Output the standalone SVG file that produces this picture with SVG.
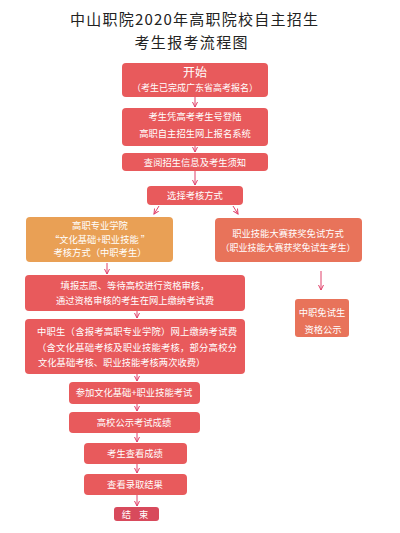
<svg xmlns="http://www.w3.org/2000/svg" width="400" height="533" viewBox="0 0 400 533">
<defs>
<marker id="ah" markerWidth="6" markerHeight="6" refX="5" refY="3" orient="auto" markerUnits="userSpaceOnUse">
<path d="M0,0.5 L5,3 L0,5.5" fill="none" stroke="#E0406A" stroke-width="1"/>
</marker>
</defs>
<style>
text{font-family:"Noto Sans CJK SC","Noto Sans",sans-serif;fill:#fff;text-anchor:middle;font-size:9.3px}
.title{fill:#222;font-size:15px}
.red{fill:#E85A5C}
.org{fill:#E9A055}
.sal{fill:#E8735A}
.end{fill:#D84A5C}
.conn line{stroke:#E0406A;stroke-width:1;marker-end:url(#ah)}
</style>
<rect width="400" height="533" fill="#fff"/>
<g id="title">
<text class="title" x="194" y="25" textLength="248" lengthAdjust="spacing">中山职院2020年高职院校自主招生</text>
<text class="title" x="191" y="48" textLength="113" lengthAdjust="spacing">考生报考流程图</text>
</g>
<g id="n1"><rect class="red" x="122" y="63" width="146" height="34" rx="4"/>
<text x="195" y="77" style="font-size:12px">开始</text>
<text x="195" y="91" style="font-size:9px">（考生已完成广东省高考报名）</text></g>
<g id="n2"><rect class="red" x="122" y="108" width="146" height="38" rx="4"/>
<text x="195" y="120">考生凭高考考生号登陆</text>
<text x="195" y="137">高职自主招生网上报名系统</text></g>
<g id="n3"><rect class="red" x="122" y="153" width="146" height="18" rx="4"/>
<text x="195" y="166">查阅招生信息及考生须知</text></g>
<g id="n4"><rect class="red" x="147" y="186" width="96" height="19" rx="4"/>
<text x="195" y="199">选择考核方式</text></g>
<g id="n5"><rect class="org" x="26" y="217" width="147" height="45" rx="4"/>
<text x="100" y="229">高职专业学院</text>
<text x="100" y="243">“文化基础+职业技能 ”</text>
<text x="100" y="256">考核方式（中职考生）</text></g>
<g id="n6"><rect class="sal" x="215" y="218" width="147" height="44" rx="4"/>
<text x="288" y="237">职业技能大赛获奖免试方式</text>
<text x="288" y="251" style="font-size:9px">（职业技能大赛获奖免试生考生）</text></g>
<g id="n7"><rect class="red" x="25" y="275" width="220" height="36" rx="4"/>
<text x="135" y="289">填报志愿、等待高校进行资格审核，</text>
<text x="135" y="304">通过资格审核的考生在网上缴纳考试费</text></g>
<g id="n8"><rect class="sal" x="295" y="299" width="54" height="38" rx="3"/>
<text x="322" y="316">中职免试生</text>
<text x="323" y="333">资格公示</text></g>
<g id="n9"><rect class="red" x="25" y="319" width="220" height="55" rx="4"/>
<text x="137" y="335" textLength="200" lengthAdjust="spacing">中职生（含报考高职专业学院）网上缴纳考试费</text>
<text x="137" y="351" textLength="200" lengthAdjust="spacing">（含文化基础考核及职业技能考核，部分高校分</text>
<text x="38" y="366" style="text-anchor:start">文化基础考核、职业技能考核两次收费）</text></g>
<g id="n10"><rect class="red" x="69" y="382" width="131" height="22" rx="4"/>
<text x="134" y="396">参加文化基础+职业技能考试</text></g>
<g id="n11"><rect class="red" x="69" y="412" width="131" height="21" rx="4"/>
<text x="134" y="426">高校公示考试成绩</text></g>
<g id="n12"><rect class="red" x="84" y="443" width="103" height="21" rx="4"/>
<text x="135" y="457">考生查看成绩</text></g>
<g id="n13"><rect class="red" x="84" y="474" width="103" height="21" rx="4"/>
<text x="135" y="488">查看录取结果</text></g>
<g id="n14"><rect class="end" x="114" y="507" width="45" height="14" rx="3"/>
<text x="136.5" y="517.5" style="letter-spacing:3px">结 束</text></g>
<g class="conn" id="connectors">
<line x1="195" y1="97" x2="195" y2="107"/>
<line x1="195" y1="146" x2="195" y2="152"/>
<line x1="195" y1="171" x2="195" y2="185"/>
<line x1="159" y1="206" x2="154" y2="214"/>
<line x1="233" y1="206" x2="238" y2="214"/>
<line x1="107" y1="263" x2="107" y2="274"/>
<line x1="137" y1="311" x2="137" y2="318"/>
<line x1="321" y1="271" x2="321" y2="290"/>
<line x1="137" y1="374" x2="137" y2="381"/>
<line x1="137" y1="404" x2="137" y2="411"/>
<line x1="137" y1="433" x2="137" y2="442"/>
<line x1="137" y1="464" x2="137" y2="473"/>
<line x1="137" y1="495" x2="137" y2="506"/>
</g>
</svg>
